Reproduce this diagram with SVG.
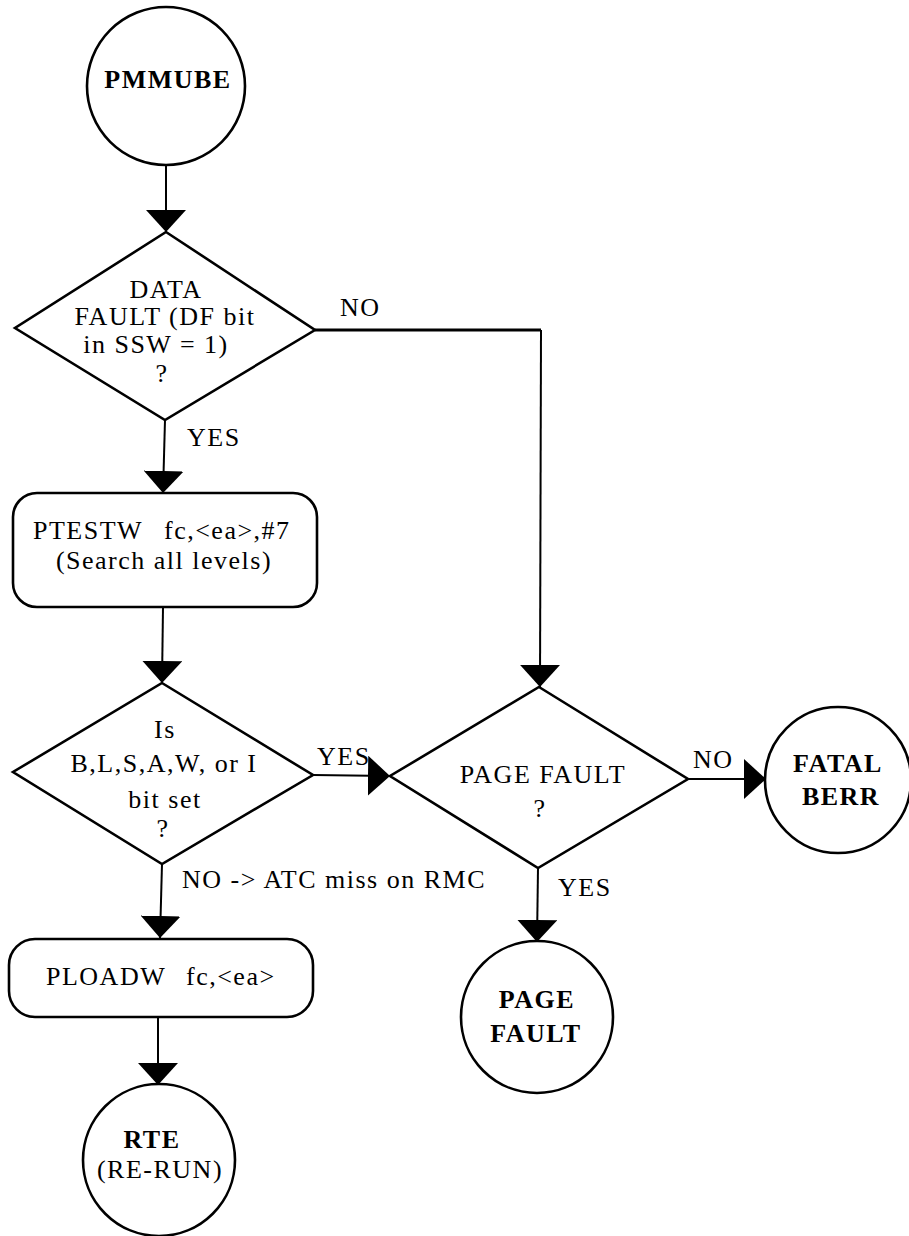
<svg xmlns="http://www.w3.org/2000/svg" width="909" height="1236" viewBox="0 0 909 1236">
<style>
.shape{fill:#fff;stroke:#000;stroke-width:2.6}
.conn{fill:none;stroke:#000;stroke-width:2}
.t{font-family:"Liberation Serif","Times New Roman",serif;font-size:26px;letter-spacing:1.5px;fill:#000}
.c{text-anchor:middle}
.b{font-weight:bold;font-size:26px;letter-spacing:1.5px}
</style>
<defs>
<marker id="ah" viewBox="0 0 22 40" refX="22" refY="20" markerWidth="22" markerHeight="40" markerUnits="userSpaceOnUse" orient="auto">
<path d="M0,0 L22,20 L0,40 Z" fill="#000"/>
</marker>
</defs>
<rect width="909" height="1236" fill="#fff"/>
<g id="connectors">
<path class="conn" d="M166,165 L166,232" marker-end="url(#ah)"/>
<path class="conn" d="M541,330 L540,687" marker-end="url(#ah)"/>
<path class="conn" d="M315,330 L541,330" style="stroke-width:3.2"/>
<path class="conn" d="M165,420 L163,493" marker-end="url(#ah)"/>
<path class="conn" d="M163,607 L162,683" marker-end="url(#ah)"/>
<path class="conn" d="M313,775 L390,776" marker-end="url(#ah)"/>
<path class="conn" d="M162,864 L160,938" marker-end="url(#ah)"/>
<path class="conn" d="M158,1017 L158,1085" marker-end="url(#ah)"/>
<path class="conn" d="M688,779 L766,779" marker-end="url(#ah)"/>
<path class="conn" d="M538,868 L537,942" marker-end="url(#ah)"/>
<text class="t" x="340" y="316">NO</text>
<text class="t" x="187" y="446">YES</text>
<text class="t" x="317" y="765">YES</text>
<text class="t" x="182" y="888">NO -&gt; ATC miss on RMC</text>
<text class="t" x="693" y="768">NO</text>
<text class="t" x="558" y="896">YES</text>
</g>
<g id="pmmube">
<circle class="shape" cx="166" cy="86" r="79"/>
<text class="t c b" x="168" y="88">PMMUBE</text>
</g>
<g id="data-fault">
<polygon class="shape" points="166,232 315,330 165,420 15,328"/>
<text class="t c" x="166" y="298">DATA</text>
<text class="t c" x="165" y="325">FAULT (DF bit</text>
<text class="t c" x="156" y="353">in SSW = 1)</text>
<text class="t c" x="162" y="382">?</text>
</g>
<g id="ptestw">
<rect class="shape" x="13" y="493" width="304" height="114" rx="24"/>
<text class="t" x="33" y="539">PTESTW</text>
<text class="t" x="164" y="539">fc,&lt;ea&gt;,#7</text>
<text class="t c" x="164" y="569">(Search all levels)</text>
</g>
<g id="bit-set">
<polygon class="shape" points="162,683 313,775 162,864 13,772"/>
<text class="t c" x="165" y="738">Is</text>
<text class="t c" x="164" y="772">B,L,S,A,W, or I</text>
<text class="t c" x="165" y="808">bit set</text>
<text class="t c" x="163" y="837">?</text>
</g>
<g id="ploadw">
<rect class="shape" x="9" y="939" width="304" height="78" rx="26"/>
<text class="t" x="46" y="985">PLOADW</text>
<text class="t" x="186" y="985">fc,&lt;ea&gt;</text>
</g>
<g id="rte">
<circle class="shape" cx="159" cy="1160" r="76"/>
<text class="t c b" x="152" y="1148">RTE</text>
<text class="t c" x="160" y="1178">(RE-RUN)</text>
</g>
<g id="page-fault-decision">
<polygon class="shape" points="539,687 688,779 538,868 390,776"/>
<text class="t c" x="543" y="783">PAGE FAULT</text>
<text class="t c" x="540" y="817">?</text>
</g>
<g id="fatal-berr">
<circle class="shape" cx="838" cy="780" r="73"/>
<text class="t c b" x="838" y="772">FATAL</text>
<text class="t c b" x="841" y="805">BERR</text>
</g>
<g id="page-fault">
<circle class="shape" cx="537" cy="1017" r="76"/>
<text class="t c b" x="537" y="1008">PAGE</text>
<text class="t c b" x="536" y="1042">FAULT</text>
</g>
</svg>
